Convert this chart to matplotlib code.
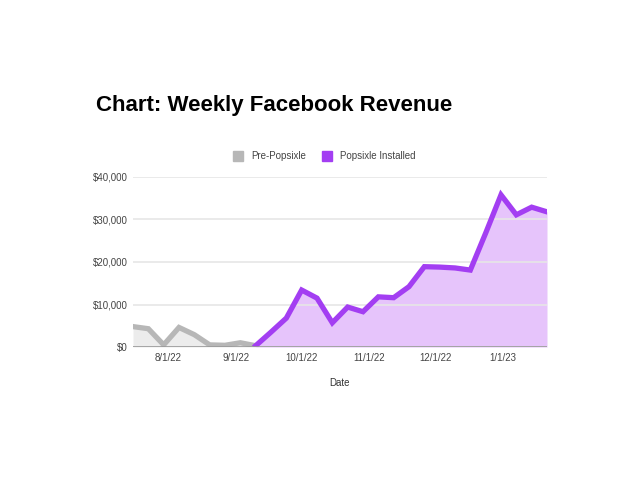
import matplotlib
matplotlib.use("Agg")
import matplotlib.pyplot as plt
from matplotlib.ticker import FuncFormatter, MultipleLocator
from matplotlib.lines import Line2D
import pandas as pd

plt.rcParams['font.family'] = ['Liberation Sans', 'DejaVu Sans']

pre_dates = ["2022-07-16", "2022-07-23", "2022-07-30", "2022-08-06", "2022-08-13",
             "2022-08-20", "2022-08-27", "2022-09-03", "2022-09-10"]
pre_values = [4800, 4300, 500, 4600, 2900, 500, 400, 1000, 300]

post_dates = ["2022-09-10", "2022-09-17", "2022-09-24", "2022-10-01", "2022-10-08",
              "2022-10-15", "2022-10-22", "2022-10-29", "2022-11-05", "2022-11-12",
              "2022-11-19", "2022-11-26", "2022-12-03", "2022-12-10", "2022-12-17",
              "2022-12-24", "2022-12-31", "2023-01-07", "2023-01-14", "2023-01-21"]
post_values = [300, 3500, 6800, 13400, 11500, 5700, 9400, 8300, 11800, 11600,
               14200, 18900, 18800, 18600, 18100, 26800, 35800, 31100, 32900, 31800]

tick_dates = ["2022-08-01", "2022-09-01", "2022-10-01", "2022-11-01", "2022-12-01", "2023-01-01"]
tick_labels = ["8/1/22", "9/1/22", "10/1/22", "11/1/22", "12/1/22", "1/1/23"]

pre_x = pd.to_datetime(pre_dates)
post_x = pd.to_datetime(post_dates)

gray_line = "#b7b7b7"
gray_fill = "#ececec"
purple_line = "#a33ef2"
purple_fill = "#e6c4fb"

fig = plt.figure(figsize=(6.4, 4.8), dpi=100)
ax = fig.add_axes([133/640, 1-347/480, (547-133)/640, (347-177)/480])

ax.fill_between(pre_x, pre_values, 0, color=gray_fill, lw=0, zorder=1)
ax.fill_between(post_x, post_values, 0, color=purple_fill, lw=0, zorder=1)
ax.plot(pre_x, pre_values, color=gray_line, lw=3.8, solid_joinstyle='miter', zorder=3)
ax.plot(post_x, post_values, color=purple_line, lw=3.8, solid_joinstyle='miter', zorder=4)

ax.set_xlim(pre_x[0], post_x[-1])
ax.set_ylim(0, 40000)
ax.yaxis.set_major_locator(MultipleLocator(10000))
ax.yaxis.set_major_formatter(FuncFormatter(lambda v, p: f"${int(v):,}"))
ax.set_xticks(pd.to_datetime(tick_dates))
ax.set_xticklabels(tick_labels)

ax.grid(axis='y', color='#e6e6e6', lw=1.2, zorder=2)
ax.axhline(0, color='#999999', lw=1.2, zorder=5)
for s in ax.spines.values():
    s.set_visible(False)
ax.tick_params(axis='both', length=0, labelsize=7, colors='#444444')
ax.tick_params(axis='x', pad=4)
ax.tick_params(axis='y', pad=4)
ax.set_xlabel("Date", fontsize=7, color='#333333', labelpad=11)

fig.text(96/640, 1-105/480, "Chart: Weekly Facebook Revenue", fontsize=16, fontweight='bold',
         color='black', ha='left', va='center')

handles = [Line2D([], [], marker='s', color='none', markerfacecolor=gray_line, markeredgecolor=gray_line, markersize=7),
           Line2D([], [], marker='s', color='none', markerfacecolor=purple_line, markeredgecolor=purple_line, markersize=7)]
fig.legend(handles, ["Pre-Popsixle", "Popsixle Installed"], loc='center', bbox_to_anchor=(322/640, 1-156/480),
           ncol=2, frameon=False, fontsize=7, handletextpad=0.3, columnspacing=1.2, labelcolor='#444444')

fig.savefig("out.png", dpi=100, facecolor='white')
